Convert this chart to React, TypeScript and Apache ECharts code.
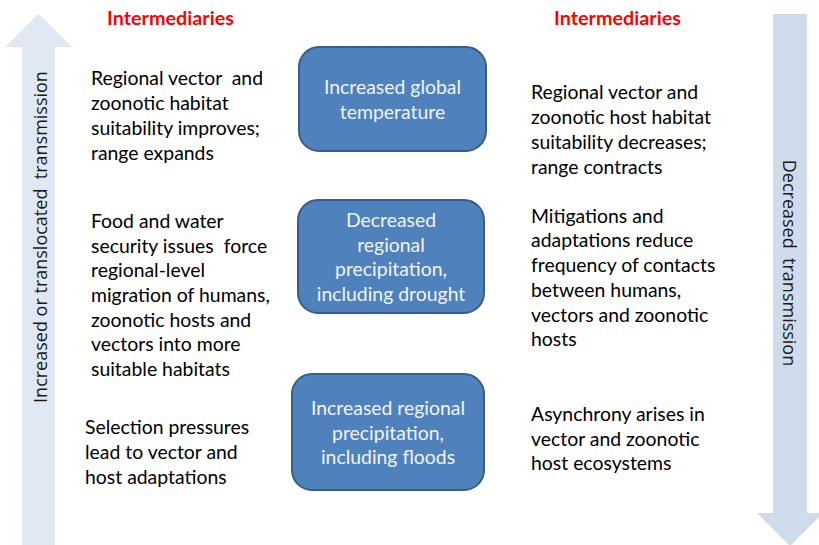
import React, { useEffect, useRef } from "react";
import * as echarts from "echarts";

const HEADER = "Intermediaries";
const LEFT_AXIS_LABEL = "Increased or translocated  transmission";
const RIGHT_AXIS_LABEL = "Decreased  transmission";

const BOX_TEXTS = [
  ["Increased global", "temperature"],
  ["Decreased", "regional", "precipitation,", "including drought"],
  ["Increased regional", "precipitation,", "including floods"],
];

const LEFT_TEXTS = [
  ["Regional vector  and", "zoonotic habitat", "suitability improves;", "range expands"],
  [
    "Food and water",
    "security issues  force",
    "regional-level",
    "migration of humans,",
    "zoonotic hosts and",
    "vectors into more",
    "suitable habitats",
  ],
  ["Selection pressures", "lead to vector and", "host adaptations"],
];

const RIGHT_TEXTS = [
  ["Regional vector and", "zoonotic host habitat", "suitability decreases;", "range contracts"],
  [
    "Mitigations and",
    "adaptations reduce",
    "frequency of contacts",
    "between humans,",
    "vectors and zoonotic",
    "hosts",
  ],
  ["Asynchrony arises in", "vector and zoonotic", "host ecosystems"],
];

// layout
const BOX_RECTS = [
  { x: 299, y: 47, w: 187, h: 104 },
  { x: 298, y: 200, w: 186, h: 113 },
  { x: 292, y: 374, w: 192, h: 116 },
];
const LEFT_POS = [
  { x: 91, cy: 115 },
  { x: 91, cy: 294.5 },
  { x: 85, cy: 451.5 },
];
const RIGHT_POS = [
  { x: 531, cy: 129 },
  { x: 531, cy: 277 },
  { x: 531, cy: 438 },
];

const FONT = "Lato, 'Open Sans', sans-serif";
const FS = 19.4;
const LH = 24.7;

export default function App() {
  const ref = useRef<HTMLDivElement>(null);
  useEffect(() => {
    document.body.style.margin = "0";
    const chart = echarts.init(ref.current!, undefined, { renderer: "svg" });
    const elements: any[] = [];
    // arrows
    elements.push({
      type: "polygon",
      shape: {
        points: [
          [22, 546],
          [22, 47],
          [5, 47],
          [38.5, 14],
          [72, 47],
          [55, 47],
          [55, 546],
        ],
      },
      style: { fill: "#dfe8f3" },
    });
    elements.push({
      type: "polygon",
      shape: {
        points: [
          [773, 14],
          [807, 14],
          [807, 513],
          [823, 513],
          [790, 546],
          [757, 513],
          [773, 513],
        ],
      },
      style: { fill: "#cfdcec" },
    });
    elements.push({
      type: "text",
      x: 40,
      y: 237,
      rotation: Math.PI / 2,
      style: {
        text: LEFT_AXIS_LABEL,
        font: "18px 'Open Sans', sans-serif",
        fill: "#1a1a1a",
        align: "center",
        verticalAlign: "middle",
      },
    });
    elements.push({
      type: "text",
      x: 790,
      y: 263,
      rotation: -Math.PI / 2,
      style: {
        text: RIGHT_AXIS_LABEL,
        font: "18px 'Open Sans', sans-serif",
        fill: "#1a1a1a",
        align: "center",
        verticalAlign: "middle",
      },
    });
    // headers
    [170.5, 617.5].forEach((x) =>
      elements.push({
        type: "text",
        x,
        y: 17,
        style: {
          text: HEADER,
          font: "bold 19.8px " + FONT,
          fill: "#ff0000",
          align: "center",
          verticalAlign: "middle",
        },
      })
    );
    // boxes
    BOX_RECTS.forEach((b, i) => {
      elements.push({
        type: "rect",
        shape: { x: b.x, y: b.y, width: b.w, height: b.h, r: 20 },
        style: { fill: "#4f81bd", stroke: "#385d8a", lineWidth: 2 },
      });
      elements.push({
        type: "text",
        x: b.x + b.w / 2,
        y: b.y + b.h / 2,
        style: {
          text: BOX_TEXTS[i].join("\n"),
          font: FS + "px " + FONT,
          lineHeight: LH,
          fill: "#f0f4fa",
          align: "center",
          verticalAlign: "middle",
        },
      });
    });
    LEFT_TEXTS.forEach((t, i) =>
      elements.push({
        type: "text",
        x: LEFT_POS[i].x,
        y: LEFT_POS[i].cy,
        style: {
          text: t.join("\n"),
          font: FS + "px " + FONT,
          lineHeight: LH,
          fill: "#000000",
          align: "left",
          verticalAlign: "middle",
        },
      })
    );
    RIGHT_TEXTS.forEach((t, i) =>
      elements.push({
        type: "text",
        x: RIGHT_POS[i].x,
        y: RIGHT_POS[i].cy,
        style: {
          text: t.join("\n"),
          font: FS + "px " + FONT,
          lineHeight: LH,
          fill: "#000000",
          align: "left",
          verticalAlign: "middle",
        },
      })
    );
    chart.setOption({
      animation: false,
      backgroundColor: "#ffffff",
      graphic: { elements },
    });
    return () => chart.dispose();
  }, []);
  return <div ref={ref} style={{ width: 819, height: 545 }} />;
}
